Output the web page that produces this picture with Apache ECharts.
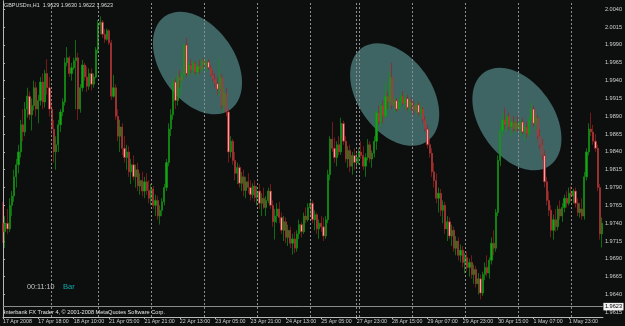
<!DOCTYPE html>
<html>
<head>
<meta charset="utf-8">
<script src="https://cdn.jsdelivr.net/npm/echarts@6/dist/echarts.min.js"></script>
<style>
html,body{margin:0;padding:0;background:#0d0f0f;}
#c{width:625px;height:326px;}
</style>
</head>
<body>
<div id="c"></div>
<script>
// GBPUSDm H1 bars, one array per trading day, each bar = [open, high, low, close]
const apr17 = [
[1.9740,1.9770,1.9712,1.9728],[1.9728,1.9750,1.9705,1.9740],[1.9740,1.9760,1.9725,1.9732],[1.9732,1.9775,1.9728,1.9765],
[1.9765,1.9785,1.9750,1.9778],[1.9778,1.9815,1.9770,1.9805],[1.9805,1.9830,1.9790,1.9822],[1.9822,1.9850,1.9810,1.9840],
[1.9840,1.9885,1.9832,1.9878],[1.9878,1.9900,1.9855,1.9868],[1.9868,1.9910,1.9862,1.9900],[1.9900,1.9930,1.9888,1.9918],
[1.9918,1.9925,1.9885,1.9892],[1.9892,1.9915,1.9870,1.9905],[1.9905,1.9940,1.9898,1.9930],[1.9930,1.9938,1.9890,1.9900],
[1.9900,1.9920,1.9880,1.9912],[1.9912,1.9945,1.9905,1.9938],[1.9938,1.9950,1.9900,1.9910],[1.9910,1.9955,1.9902,1.9950],
[1.9950,1.9970,1.9920,1.9930],[1.9930,1.9945,1.9890,1.9900]
];
const apr18 = [
[1.9900,1.9910,1.9865,1.9872],[1.9872,1.9885,1.9825,1.9840],[1.9840,1.9862,1.9815,1.9850],[1.9850,1.9885,1.9840,1.9878],
[1.9878,1.9900,1.9868,1.9896],[1.9896,1.9915,1.9890,1.9910],[1.9910,1.9972,1.9905,1.9965],[1.9965,1.9987,1.9960,1.9972],
[1.9972,1.9975,1.9945,1.9950],[1.9950,1.9965,1.9940,1.9958],[1.9958,1.9972,1.9955,1.9968],[1.9968,1.9997,1.9900,1.9972],
[1.9972,1.9979,1.9885,1.9900],[1.9900,1.9935,1.9895,1.9930],[1.9930,1.9969,1.9925,1.9962],[1.9962,1.9965,1.9940,1.9945],
[1.9945,1.9960,1.9924,1.9932],[1.9932,1.9957,1.9927,1.9950],[1.9950,1.9957,1.9926,1.9935],[1.9935,1.9950,1.9930,1.9945],
[1.9945,1.9987,1.9943,1.9983]
];
const apr21 = [
[1.9983,2.0025,1.9978,2.0018],[2.0018,2.0030,2.0005,2.0022],[2.0022,2.0025,2.0000,2.0005],[2.0005,2.0012,1.9993,1.9998],
[1.9998,2.0013,1.9996,2.0010],[2.0010,2.0012,1.9990,1.9993],[1.9993,1.9997,1.9913,1.9918],[1.9918,1.9948,1.9916,1.9930],
[1.9930,1.9935,1.9885,1.9890],[1.9890,1.9900,1.9855,1.9862],[1.9862,1.9885,1.9840,1.9875],[1.9875,1.9880,1.9835,1.9845],
[1.9845,1.9862,1.9825,1.9832],[1.9832,1.9850,1.9815,1.9840],[1.9840,1.9848,1.9805,1.9812],[1.9812,1.9830,1.9795,1.9822],
[1.9822,1.9835,1.9800,1.9805],[1.9805,1.9822,1.9790,1.9815],[1.9815,1.9825,1.9785,1.9792],[1.9792,1.9810,1.9780,1.9800],
[1.9800,1.9812,1.9778,1.9785],[1.9785,1.9805,1.9775,1.9798],[1.9798,1.9810,1.9780,1.9786],[1.9786,1.9800,1.9768,1.9775]
];
const apr22 = [
[1.9775,1.9795,1.9765,1.9788],[1.9788,1.9792,1.9760,1.9765],[1.9765,1.9780,1.9750,1.9772],[1.9772,1.9778,1.9745,1.9750],
[1.9750,1.9765,1.9738,1.9758],[1.9758,1.9775,1.9750,1.9770],[1.9770,1.9795,1.9765,1.9790],[1.9790,1.9830,1.9785,1.9825],
[1.9825,1.9880,1.9820,1.9872],[1.9872,1.9900,1.9862,1.9892],[1.9892,1.9945,1.9885,1.9938],[1.9938,1.9942,1.9900,1.9912],
[1.9912,1.9950,1.9905,1.9945],[1.9945,1.9955,1.9930,1.9940],[1.9940,1.9952,1.9920,1.9948],[1.9948,1.9992,1.9945,1.9990],
[1.9990,2.0000,1.9945,1.9950],[1.9950,1.9968,1.9945,1.9962],[1.9962,1.9970,1.9950,1.9955],[1.9955,1.9968,1.9948,1.9964],
[1.9964,1.9967,1.9948,1.9952],[1.9952,1.9966,1.9945,1.9960],[1.9960,1.9969,1.9950,1.9956],[1.9956,1.9972,1.9952,1.9968]
];
const apr23 = [
[1.9968,1.9972,1.9958,1.9962],[1.9962,1.9970,1.9952,1.9966],[1.9966,1.9970,1.9955,1.9958],[1.9958,1.9962,1.9945,1.9948],
[1.9948,1.9955,1.9938,1.9942],[1.9942,1.9950,1.9930,1.9936],[1.9936,1.9945,1.9920,1.9928],[1.9928,1.9972,1.9918,1.9945],
[1.9945,1.9950,1.9900,1.9905],[1.9905,1.9930,1.9895,1.9922],[1.9922,1.9930,1.9890,1.9896],[1.9896,1.9900,1.9825,1.9840],
[1.9840,1.9862,1.9832,1.9855],[1.9855,1.9858,1.9822,1.9828],[1.9828,1.9840,1.9800,1.9810],[1.9810,1.9825,1.9795,1.9818],
[1.9818,1.9822,1.9790,1.9796],[1.9796,1.9812,1.9785,1.9805],[1.9805,1.9815,1.9778,1.9786],[1.9786,1.9805,1.9775,1.9798],
[1.9798,1.9810,1.9782,1.9790],[1.9790,1.9800,1.9772,1.9780],[1.9780,1.9796,1.9775,1.9792],[1.9792,1.9800,1.9770,1.9776]
];
const apr24 = [
[1.9776,1.9792,1.9765,1.9785],[1.9785,1.9795,1.9760,1.9768],[1.9768,1.9782,1.9750,1.9775],[1.9775,1.9790,1.9760,1.9762],
[1.9762,1.9778,1.9750,1.9772],[1.9772,1.9790,1.9768,1.9785],[1.9785,1.9795,1.9760,1.9765],[1.9765,1.9772,1.9735,1.9742],
[1.9742,1.9760,1.9717,1.9750],[1.9750,1.9768,1.9740,1.9760],[1.9760,1.9770,1.9740,1.9748],[1.9748,1.9755,1.9725,1.9730],
[1.9730,1.9750,1.9715,1.9742],[1.9742,1.9748,1.9712,1.9720],[1.9720,1.9738,1.9708,1.9730],[1.9730,1.9735,1.9705,1.9712],
[1.9712,1.9725,1.9696,1.9718],[1.9718,1.9728,1.9698,1.9705],[1.9705,1.9730,1.9700,1.9725],[1.9725,1.9745,1.9718,1.9738],
[1.9738,1.9742,1.9720,1.9728],[1.9728,1.9755,1.9725,1.9750],[1.9750,1.9762,1.9740,1.9745],[1.9745,1.9768,1.9742,1.9762]
];
const apr25 = [
[1.9762,1.9775,1.9750,1.9768],[1.9768,1.9772,1.9740,1.9745],[1.9745,1.9758,1.9730,1.9752],[1.9752,1.9755,1.9725,1.9732],
[1.9732,1.9745,1.9718,1.9740],[1.9740,1.9750,1.9728,1.9735],[1.9735,1.9748,1.9715,1.9722],[1.9722,1.9750,1.9718,1.9745],
[1.9745,1.9815,1.9740,1.9808],[1.9808,1.9862,1.9800,1.9858],[1.9858,1.9882,1.9840,1.9845],[1.9845,1.9860,1.9825,1.9832],
[1.9832,1.9855,1.9820,1.9850],[1.9850,1.9862,1.9835,1.9840],[1.9840,1.9888,1.9836,1.9880],[1.9880,1.9884,1.9850,1.9855],
[1.9855,1.9862,1.9825,1.9830],[1.9830,1.9848,1.9818,1.9842],[1.9842,1.9850,1.9812,1.9820],[1.9820,1.9840,1.9808,1.9835],
[1.9835,1.9845,1.9815,1.9825]
];
const apr27 = [
[1.9825,1.9838,1.9818,1.9832]
];
const apr28 = [
[1.9832,1.9845,1.9822,1.9840],[1.9840,1.9855,1.9830,1.9835],[1.9835,1.9848,1.9815,1.9820],[1.9820,1.9838,1.9805,1.9832],
[1.9832,1.9858,1.9828,1.9850],[1.9850,1.9855,1.9825,1.9830],[1.9830,1.9842,1.9818,1.9838],[1.9838,1.9862,1.9832,1.9855],
[1.9855,1.9900,1.9843,1.9895],[1.9895,1.9905,1.9878,1.9882],[1.9882,1.9910,1.9875,1.9905],[1.9905,1.9912,1.9880,1.9890],
[1.9890,1.9937,1.9888,1.9918],[1.9918,1.9925,1.9900,1.9910],[1.9910,1.9952,1.9900,1.9945],[1.9945,1.9965,1.9900,1.9905],
[1.9905,1.9918,1.9895,1.9912],[1.9912,1.9916,1.9896,1.9900],[1.9900,1.9915,1.9898,1.9910],[1.9910,1.9922,1.9902,1.9918],
[1.9918,1.9925,1.9905,1.9908],[1.9908,1.9922,1.9900,1.9915],[1.9915,1.9920,1.9898,1.9902],[1.9902,1.9915,1.9896,1.9910]
];
const apr29 = [
[1.9910,1.9916,1.9898,1.9905],[1.9905,1.9912,1.9892,1.9898],[1.9898,1.9910,1.9892,1.9906],[1.9906,1.9910,1.9890,1.9895],
[1.9895,1.9905,1.9888,1.9900],[1.9900,1.9903,1.9880,1.9885],[1.9885,1.9890,1.9868,1.9872],[1.9872,1.9878,1.9845,1.9850],
[1.9850,1.9858,1.9832,1.9838],[1.9838,1.9845,1.9805,1.9812],[1.9812,1.9825,1.9790,1.9800],[1.9800,1.9810,1.9768,1.9775],
[1.9775,1.9790,1.9755,1.9782],[1.9782,1.9788,1.9750,1.9758],[1.9758,1.9772,1.9740,1.9765],[1.9765,1.9770,1.9725,1.9732],
[1.9732,1.9750,1.9715,1.9742],[1.9742,1.9748,1.9718,1.9722],[1.9722,1.9738,1.9708,1.9730],[1.9730,1.9735,1.9700,1.9705],
[1.9705,1.9722,1.9695,1.9715],[1.9715,1.9720,1.9688,1.9695],[1.9695,1.9710,1.9685,1.9702],[1.9702,1.9708,1.9678,1.9685]
];
const apr30 = [
[1.9685,1.9698,1.9670,1.9692],[1.9692,1.9700,1.9672,1.9678],[1.9678,1.9690,1.9665,1.9685],[1.9685,1.9695,1.9662,1.9668],
[1.9668,1.9682,1.9655,1.9675],[1.9675,1.9680,1.9650,1.9655],[1.9655,1.9670,1.9640,1.9662],[1.9662,1.9668,1.9633,1.9642],
[1.9642,1.9672,1.9638,1.9668],[1.9668,1.9685,1.9660,1.9678],[1.9678,1.9695,1.9665,1.9670],[1.9670,1.9692,1.9662,1.9688],
[1.9688,1.9720,1.9682,1.9712],[1.9712,1.9730,1.9695,1.9705],[1.9705,1.9760,1.9700,1.9755],[1.9755,1.9835,1.9750,1.9828],
[1.9828,1.9875,1.9820,1.9870],[1.9870,1.9895,1.9862,1.9885],[1.9885,1.9902,1.9872,1.9878],[1.9878,1.9892,1.9868,1.9890],
[1.9890,1.9895,1.9870,1.9875],[1.9875,1.9888,1.9862,1.9882],[1.9882,1.9890,1.9868,1.9872],[1.9872,1.9885,1.9865,1.9880]
];
const may01 = [
[1.9880,1.9890,1.9868,1.9872],[1.9872,1.9885,1.9862,1.9882],[1.9882,1.9888,1.9865,1.9868],[1.9868,1.9880,1.9855,1.9875],
[1.9875,1.9882,1.9860,1.9865],[1.9865,1.9890,1.9862,1.9885],[1.9885,1.9909,1.9880,1.9900],[1.9900,1.9905,1.9875,1.9880],
[1.9880,1.9895,1.9870,1.9888],[1.9888,1.9892,1.9858,1.9862],[1.9862,1.9872,1.9845,1.9850],[1.9850,1.9858,1.9828,1.9835],
[1.9835,1.9842,1.9790,1.9798],[1.9798,1.9805,1.9765,1.9772],[1.9772,1.9785,1.9750,1.9758],[1.9758,1.9765,1.9720,1.9730],
[1.9730,1.9752,1.9717,1.9745],[1.9745,1.9760,1.9728,1.9735],[1.9735,1.9765,1.9730,1.9760],[1.9760,1.9772,1.9745,1.9750],
[1.9750,1.9768,1.9742,1.9762],[1.9762,1.9780,1.9755,1.9775],[1.9775,1.9785,1.9762,1.9768],[1.9768,1.9790,1.9765,1.9782]
];
const may02 = [
[1.9782,1.9792,1.9770,1.9778],[1.9778,1.9788,1.9768,1.9785],[1.9785,1.9790,1.9762,1.9768],[1.9768,1.9775,1.9750,1.9755],
[1.9755,1.9768,1.9748,1.9760],[1.9760,1.9775,1.9745,1.9750],[1.9750,1.9812,1.9745,1.9805],[1.9805,1.9845,1.9800,1.9840],
[1.9840,1.9880,1.9835,1.9872],[1.9872,1.9895,1.9862,1.9868],[1.9868,1.9878,1.9850,1.9855],[1.9855,1.9865,1.9840,1.9845],
[1.9845,1.9850,1.9785,1.9790],[1.9790,1.9795,1.9717,1.9725],[1.9725,1.9748,1.9706,1.9740]
];

// time-axis labels (every 16th bar) and day separators (bar index of first bar of each day)
const timeLabels = ['17 Apr 2008','17 Apr 18:00','18 Apr 10:00','21 Apr 05:00','21 Apr 21:00','22 Apr 13:00',
  '23 Apr 05:00','23 Apr 21:00','24 Apr 13:00','25 Apr 05:00','27 Apr 23:00','28 Apr 15:00','29 Apr 07:00',
  '29 Apr 23:00','30 Apr 15:00','1 May 07:00','1 May 23:00'];
const timeLabelBars = [0,16,32,48,64,80,96,112,128,144,160,176,192,208,224,240,256];
const daySeparatorBars = [22,43,67,91,115,139,160,161,185,209,233,257];

// price-axis tick labels and current bid
const priceLabels = [2.0040,2.0015,1.9990,1.9965,1.9940,1.9915,1.9890,1.9865,1.9840,1.9815,1.9790,
  1.9765,1.9740,1.9715,1.9690,1.9665,1.9640,1.9615];
const bidPrice = 1.9623;

// drawn ellipse annotations: centre bar index and price
const ellipseBars = [88, 177.2, 232.5];
const ellipsePrices = [1.99647, 1.99205, 1.98861];

const titleText = 'GBPUSDm,H1  1.9629 1.9630 1.9622 1.9623';
const timerText = '00:11:10';
const timerTag = 'Bar';
const copyrightText = 'Interbank FX Trader 4, \u00A9 2001-2008 MetaQuotes Software Corp.';

const days = [apr17, apr18, apr21, apr22, apr23, apr24, apr25, apr27, apr28, apr29, apr30, may01, may02];
const bars = [];
days.forEach(d => d.forEach(b => bars.push(b)));
const seriesData = bars.map((b, i) => [i, b[0], b[3], b[2], b[1]]);

const FONT = '"Liberation Sans", Arial, sans-serif';
const chart = echarts.init(document.getElementById('c'), null, {renderer: 'canvas'});

const sepLines = daySeparatorBars.map(v => ({
  xAxis: v,
  lineStyle: {type: [2, 2], color: '#8e8e8e', width: 1},
  label: {show: false}
}));
const bidLine = {
  yAxis: bidPrice,
  lineStyle: {type: 'solid', color: '#8a8a8a', width: 1},
  label: {show: true, position: 'end', formatter: bidPrice.toFixed(4), color: '#000', backgroundColor: '#f2f2f2',
    fontSize: 5.6, fontFamily: FONT, padding: [1, 1.5, 0.5, 1.5], distance: 0.5}
};

chart.setOption({
  backgroundColor: '#0d0f0f',
  animation: false,
  grid: {left: 2, right: 21, top: 1, bottom: 9},
  xAxis: {
    type: 'value', min: -0.05, max: 271.37,
    axisLine: {show: true, lineStyle: {color: '#b8b8b8', width: 1}},
    axisTick: {show: true, length: 2, customValues: timeLabelBars, lineStyle: {color: '#b8b8b8'}},
    axisLabel: {customValues: timeLabelBars, formatter: v => timeLabels[timeLabelBars.indexOf(v)] || '',
      color: '#cfcfcf', fontSize: 5.3, fontFamily: FONT, align: 'left', margin: 2},
    splitLine: {show: false}
  },
  yAxis: [{
    type: 'value', position: 'right', min: 1.960844, max: 2.005164,
    axisLine: {show: true, lineStyle: {color: '#b8b8b8', width: 1}},
    axisTick: {show: true, length: 2, customValues: priceLabels, lineStyle: {color: '#b8b8b8'}},
    axisLabel: {customValues: priceLabels, formatter: v => v.toFixed(4), color: '#cfcfcf', fontSize: 5.6,
      fontFamily: FONT, margin: 2},
    splitLine: {show: false}
  }, {
    type: 'value', position: 'left', min: 1.960844, max: 2.005164,
    axisLine: {show: true, lineStyle: {color: '#b8b8b8', width: 1}},
    axisTick: {show: false}, axisLabel: {show: false}, splitLine: {show: false}
  }],
  series: [{
    type: 'candlestick',
    data: seriesData,
    dimensions: ['bar', 'open', 'close', 'lowest', 'highest'],
    encode: {x: 0, y: [1, 2, 3, 4]},
    barWidth: 1.7,
    clip: true,
    itemStyle: {color: '#14a814', color0: '#f3a3a3', borderColor: '#129312', borderColor0: '#a3201f', borderWidth: 0.7},
    markLine: {silent: true, symbol: 'none', animation: false, precision: 4, data: sepLines.concat([bidLine])}
  }]
});

const ellipseEls = ellipseBars.map((b, k) => {
  const p = chart.convertToPixel({gridIndex: 0}, [b, ellipsePrices[k]]);
  return {type: 'ellipse', x: p[0], y: p[1], rotation: -0.96, silent: true, z: 1,
    shape: {cx: 0, cy: 0, rx: 57, ry: 37}, style: {fill: '#3e6464'}};
});

chart.setOption({
  graphic: ellipseEls.concat([
    {type: 'text', x: 4, y: 5.5, z: 10, silent: true,
      style: {text: titleText, fill: '#dcdcdc', fontSize: 5.4, fontFamily: FONT, verticalAlign: 'middle'}},
    {type: 'text', x: 27, y: 287, z: 10, silent: true,
      style: {text: timerText, fill: '#c4c4c4', fontSize: 7.2, fontFamily: FONT, verticalAlign: 'middle'}},
    {type: 'text', x: 63, y: 287, z: 10, silent: true,
      style: {text: timerTag, fill: '#10a8a8', fontSize: 7.6, fontFamily: FONT, verticalAlign: 'middle'}},
    {type: 'text', x: 4, y: 312, z: 10, silent: true,
      style: {text: copyrightText, fill: '#e4e4e4', fontSize: 5.6, fontFamily: FONT, verticalAlign: 'middle'}}
  ])
});
</script>
</body>
</html>
